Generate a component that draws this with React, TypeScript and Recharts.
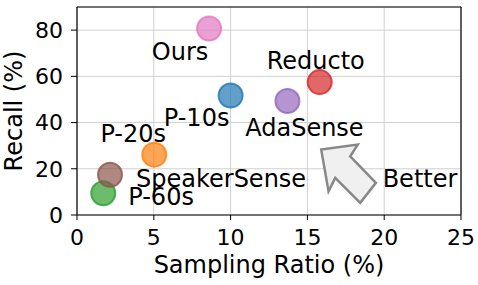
import React from 'react';
import {
  ScatterChart,
  Scatter,
  XAxis,
  YAxis,
  CartesianGrid,
  ReferenceLine,
  ReferenceDot,
  Label,
} from 'recharts';

// methods, drawn in this order (later ones sit on top)
const names = ['Ours', 'Reducto', 'P-10s', 'AdaSense', 'P-20s', 'P-60s', 'SpeakerSense'];
const samplingRatio = [8.6, 15.8, 10.0, 13.7, 5.03, 1.71, 2.15];
const recall = [80.7, 57.5, 51.7, 49.3, 26.1, 9.4, 17.4];
const colors = ['#e377c2', '#d62728', '#1f77b4', '#9467bd', '#ff7f0e', '#2ca02c', '#8c564b'];

const xTicks = [0, 5, 10, 15, 20, 25];
const yTicks = [0, 20, 40, 60, 80];

// where each name sits relative to its marker (px)
const labelPos: Record<string, { dx: number; dy: number; anchor: 'start' | 'middle' }> = {
  Ours: { dx: -29, dy: 32, anchor: 'middle' },
  Reducto: { dx: -4, dy: -13, anchor: 'middle' },
  'P-10s': { dx: -34, dy: 30, anchor: 'middle' },
  AdaSense: { dx: 17, dy: 35, anchor: 'middle' },
  'P-20s': { dx: -21, dy: -13, anchor: 'middle' },
  'P-60s': { dx: 25, dy: 12, anchor: 'start' },
  SpeakerSense: { dx: 26, dy: 12, anchor: 'start' },
};

const points = names.map((name, i) => ({
  name,
  x: samplingRatio[i],
  y: recall[i],
  color: colors[i],
}));

const FONT = 'DejaVu Sans, sans-serif';
const FS = 24; // annotations and axis titles
const TICK_FS = 22;

const Dot = (props: any) => {
  const { cx, cy, payload } = props;
  return (
    <circle
      cx={cx}
      cy={cy}
      r={12}
      fill={payload.color}
      fillOpacity={0.7}
      stroke={payload.color}
      strokeOpacity={0.8}
      strokeWidth={2}
    />
  );
};

const NameLabel = (props: any) => {
  const { cx, cy, payload } = props;
  const p = labelPos[payload.name];
  return (
    <text
      x={cx + p.dx}
      y={cy + p.dy}
      textAnchor={p.anchor}
      fontFamily={FONT}
      fontSize={FS}
      fill="#000"
    >
      {payload.name}
    </text>
  );
};

// block arrow pointing towards the better corner, drawn from its tip
const BetterArrow = (props: any) => {
  const { cx, cy } = props;
  const pts = [
    [0, 0],
    [36.5, -5],
    [29, 6.7],
    [54.7, 33.3],
    [39, 53.3],
    [14, 28.3],
    [7.3, 41.7],
  ]
    .map(([dx, dy]) => `${cx + dx},${cy + dy}`)
    .join(' ');
  return <polygon points={pts} fill="#f0f0f0" stroke="#888888" strokeWidth={2.5} strokeLinejoin="miter" />;
};

const BetterText = (props: any) => {
  const { cx, cy } = props;
  return (
    <text x={cx} y={cy} fontFamily={FONT} fontSize={FS} fill="#000">
      Better
    </text>
  );
};

const YTitle = (props: any) => {
  const { viewBox } = props;
  const x = viewBox.x + 21.5;
  const y = viewBox.y + viewBox.height / 2;
  return (
    <text
      x={x}
      y={y}
      transform={`rotate(-90, ${x}, ${y})`}
      textAnchor="middle"
      fontFamily={FONT}
      fontSize={FS}
      fill="#000"
    >
      Recall (%)
    </text>
  );
};

const XTitle = (props: any) => {
  const { viewBox } = props;
  return (
    <text
      x={viewBox.x + viewBox.width / 2}
      y={273}
      textAnchor="middle"
      fontFamily={FONT}
      fontSize={FS}
      fill="#000"
    >
      Sampling Ratio (%)
    </text>
  );
};

const tickStyle = { fontFamily: FONT, fontSize: TICK_FS, fill: '#000' };

export default function App() {
  return (
    <div style={{ position: 'absolute', left: 0, top: 0, background: '#fff' }}>
      <ScatterChart width={478} height={285} margin={{ top: 7, right: 17, bottom: 0, left: 0 }}>
        <CartesianGrid stroke="#d0d0d0" strokeWidth={1} />
        <XAxis
          type="number"
          dataKey="x"
          domain={[0, 25]}
          ticks={xTicks}
          height={70}
          tick={tickStyle}
          tickSize={5}
          tickMargin={9}
          axisLine={{ stroke: '#000', strokeWidth: 1.2 }}
          tickLine={{ stroke: '#000' }}
          allowDataOverflow
        >
          <Label content={<XTitle />} />
        </XAxis>
        <YAxis
          type="number"
          dataKey="y"
          domain={[0, 90]}
          ticks={yTicks}
          width={77}
          tick={tickStyle}
          tickSize={6}
          tickMargin={8}
          axisLine={{ stroke: '#000', strokeWidth: 1.2 }}
          tickLine={{ stroke: '#000' }}
          allowDataOverflow
        >
          <Label content={<YTitle />} />
        </YAxis>
        <ReferenceLine y={90} stroke="#000" strokeWidth={1.2} />
        <ReferenceLine x={25} stroke="#000" strokeWidth={1.2} />
        {points.map((p) => (
          <Scatter key={p.name} data={[p]} shape={<Dot />} isAnimationActive={false} />
        ))}
        <ReferenceDot x={15.9} y={28.3} r={0} shape={<BetterArrow />} />
        <ReferenceDot x={19.9} y={12.2} r={0} shape={<BetterText />} />
        <Scatter data={points} shape={<NameLabel />} isAnimationActive={false} />
      </ScatterChart>
    </div>
  );
}
